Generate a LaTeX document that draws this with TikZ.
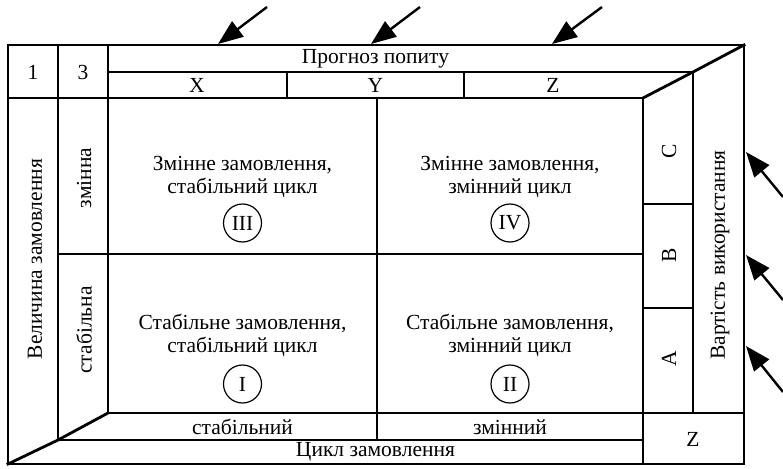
\documentclass[tikz,border=0pt]{standalone}
\usepackage{fontspec}
\setmainfont{Liberation Serif}
\usetikzlibrary{arrows.meta}
\begin{document}
\begin{tikzpicture}[x=1pt,y=-1pt,
  frame/.style={line width=2.8pt,line cap=rect},
  lbl/.style={font=\fontsize{21.5}{23}\selectfont,inner sep=0pt,align=center},
  vlbl/.style={lbl,rotate=90},
  roman/.style={draw,circle,line width=1.2pt,minimum size=38pt,inner sep=0pt,font=\fontsize{21.5}{23}\selectfont},
  inarrow/.style={line width=2.4pt,-{Triangle[length=25pt,width=19pt]}}]
\useasboundingbox (0,0) rectangle (783,468);
% frame lines
\draw[frame] (8,45) -- (744,45) -- (744,464) -- (8,464) -- cycle;
\draw[frame] (58,45) -- (58,440);
\draw[frame] (108,45) -- (108,413);
\draw[frame] (108,72) -- (693,72);
\draw[frame] (8,98) -- (643,98);
\draw[frame] (287,72) -- (287,98);
\draw[frame] (464,72) -- (464,98);
\draw[frame] (643,98) -- (693,72) -- (744,45);
\draw[frame] (643,98) -- (643,464);
\draw[frame] (693,72) -- (693,413);
\draw[frame] (643,204) -- (693,204);
\draw[frame] (643,308) -- (693,308);
\draw[frame] (58,254) -- (643,254);
\draw[frame] (377,98) -- (377,440);
\draw[frame] (108,413) -- (744,413);
\draw[frame] (58,440) -- (643,440);
\draw[frame] (8,464) -- (58,440) -- (108,413);
% header texts
\node[lbl] (n1) at (33,72) {1};
\node[lbl] (n3) at (83,72) {3};
\node[lbl] (prog) at (375.5,58.5) {Прогноз попиту};
\node[lbl] (cx) at (197,85) {X};
\node[lbl] (cy) at (375.5,85) {Y};
\node[lbl] (cz) at (553,85) {Z};
% left texts
\node[vlbl] (velyc) at (35,259) {Величина замовлення};
\node[vlbl] (zminna) at (84,178) {змінна};
\node[vlbl] (stabna) at (84,330) {стабільна};
% right texts
\node[vlbl] (vart) at (720,255) {Вартість використання};
\node[vlbl] (cc) at (669,151) {C};
\node[vlbl] (cb) at (669,255) {B};
\node[vlbl] (ca) at (669,359) {A};
% bottom texts
\node[lbl] (stab) at (242.5,427) {стабільний};
\node[lbl] (zmin) at (510,427) {змінний};
\node[lbl] (cykl) at (375.5,452) {Цикл замовлення};
\node[lbl] (zb) at (693,439) {Z};
% quadrants
\node[lbl] (q3) at (242.5,177) {Змінне замовлення,\\стабільний цикл};
\node[roman] (r3) at (242.5,223) {III};
\node[lbl] (q4) at (510,177) {Змінне замовлення,\\змінний цикл};
\node[roman] (r4) at (510,223) {IV};
\node[lbl] (q1) at (242.5,335) {Стабільне замовлення,\\стабільний цикл};
\node[roman] (r1) at (242.5,384) {I};
\node[lbl] (q2) at (510,335) {Стабільне замовлення,\\змінний цикл};
\node[roman] (r2) at (510,384) {II};
% arrows
\coordinate (t1s) at (267,7);  \coordinate (t1e) at (218,44);
\coordinate (t2s) at (420,7);  \coordinate (t2e) at (371,44);
\coordinate (t3s) at (602,7);  \coordinate (t3e) at (552,44);
\coordinate (r1s) at (783,197); \coordinate (r1e) at (746,152);
\coordinate (r2s) at (783,300); \coordinate (r2e) at (746,255);
\coordinate (r3s) at (783,392); \coordinate (r3e) at (746,346);
\draw[inarrow] (t1s) -- (t1e);
\draw[inarrow] (t2s) -- (t2e);
\draw[inarrow] (t3s) -- (t3e);
\draw[inarrow] (r1s) -- (r1e);
\draw[inarrow] (r2s) -- (r2e);
\draw[inarrow] (r3s) -- (r3e);
\end{tikzpicture}
\end{document}
